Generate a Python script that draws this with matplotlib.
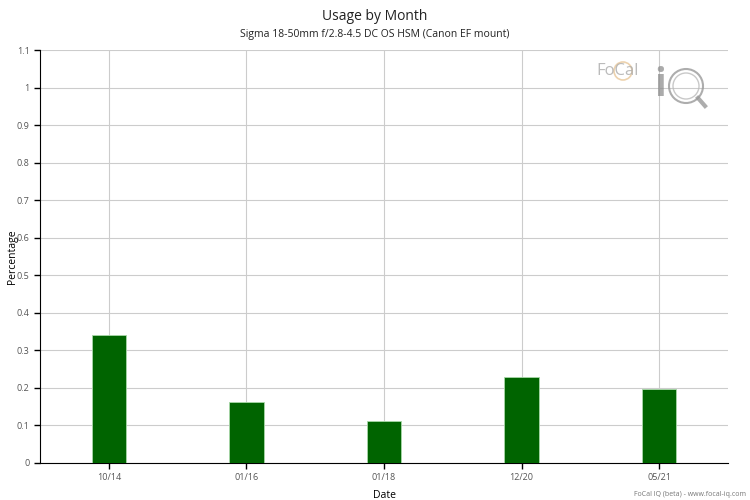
import matplotlib
matplotlib.use("Agg")
import matplotlib.pyplot as plt
from matplotlib.patches import Ellipse

plt.rcParams['font.family'] = ['Open Sans', 'DejaVu Sans']

categories = ["10/14", "01/16", "01/18", "12/20", "05/21"]
values = [0.341, 0.163, 0.113, 0.230, 0.198]
yticks = [0, 0.1, 0.2, 0.3, 0.4, 0.5, 0.6, 0.7, 0.8, 0.9, 1, 1.1]
ytick_labels = ["0", "0.1", "0.2", "0.3", "0.4", "0.5", "0.6", "0.7", "0.8", "0.9", "1", "1.1"]

fig = plt.figure(figsize=(7.5, 5), dpi=100)
ax = fig.add_axes([40/750, 1-463/500, 688/750, 413/500])

x = list(range(len(categories)))
ax.bar(x, values, width=0.25, color="#006400", edgecolor="#a8d8a8", linewidth=0.6, zorder=3)

ax.set_xlim(-0.5, 4.5)
ax.set_ylim(0, 1.1)
ax.set_yticks(yticks)
ax.set_yticklabels(ytick_labels)
ax.set_xticks(x)
ax.set_xticklabels(categories)

ax.grid(True, color="#cccccc", linewidth=0.8, zorder=0)
ax.set_axisbelow(True)
for s in ["top", "right"]:
    ax.spines[s].set_visible(False)
ax.spines["left"].set_color("black")
ax.spines["bottom"].set_color("black")
ax.tick_params(axis="both", labelsize=6.5, labelcolor="#555555", color="black", length=4, width=1)

ax.set_xlabel("Date", fontsize=7.5)
ax.xaxis.set_label_coords(0.5, -(490-463)/413)
ax.set_ylabel("Percentage", fontsize=7.5)
ax.yaxis.set_label_coords(-(40-18)/688, 0.5)

fig.text(0.5, 1-16/500, "Usage by Month", ha="center", va="center", fontsize=10, color="#222222")
fig.text(0.5, 1-34/500, "Sigma 18-50mm f/2.8-4.5 DC OS HSM (Canon EF mount)", ha="center", va="center", fontsize=7.5, color="#222222")
fig.text(746/750, 1-494/500, "FoCal IQ (beta) - www.focal-iq.com", ha="right", va="center", fontsize=5, color="#777777")

# watermark logo approximation
fig.text(596/750, 1-71/500, "FoCal", ha="left", va="center", fontsize=12, color="#aaaaaa", alpha=0.8)
fig.text(654/750, 1-86/500, "i", ha="left", va="center", fontsize=28, color="#888888", fontweight="bold", alpha=0.7)
def ring(cx, cy, r, color, lw):
    e = Ellipse((cx/750, 1-cy/500), width=2*r/750, height=2*r/500,
                transform=fig.transFigure, fill=False, edgecolor=color, linewidth=lw, alpha=0.8)
    fig.add_artist(e)
ring(686, 86, 17, "#999999", 1.5)
ring(686, 86, 13, "#bbbbbb", 1.0)
ring(623, 71, 9, "#e8c79a", 1.2)
fig.add_artist(plt.Line2D([698/750, 705/750], [1-98/500, 1-106/500], transform=fig.transFigure,
                          color="#999999", linewidth=3, alpha=0.8))

fig.savefig("out.png", dpi=100)
